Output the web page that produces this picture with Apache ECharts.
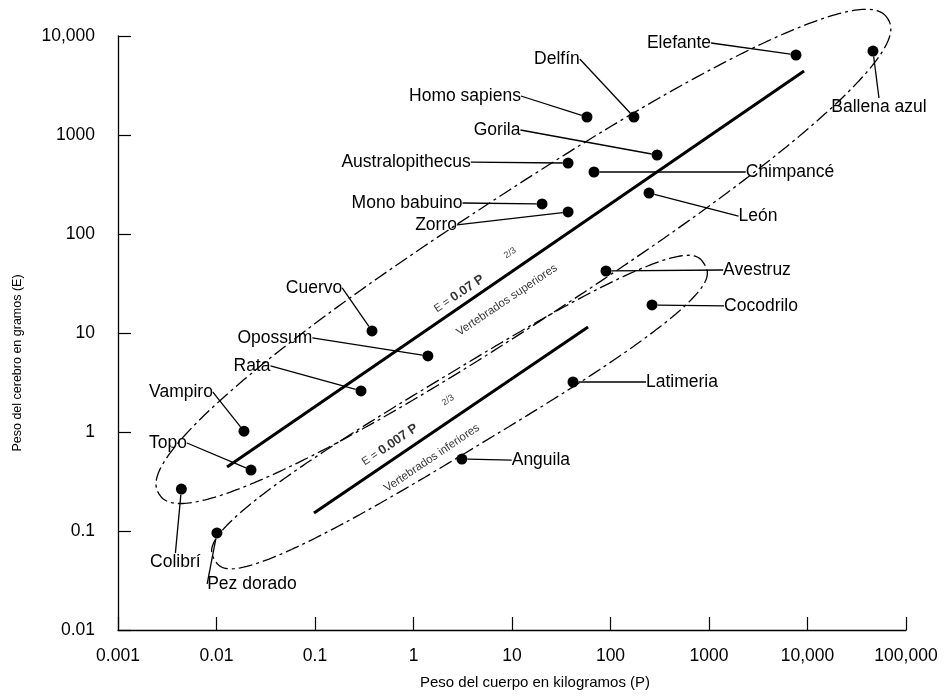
<!DOCTYPE html>
<html>
<head>
<meta charset="utf-8">
<script src="https://cdn.jsdelivr.net/npm/echarts@6/dist/echarts.min.js"></script>
<style>
html,body{margin:0;padding:0;background:#fff;}
#chart{width:947px;height:699px;}
</style>
</head>
<body>
<div id="chart"></div>
<script>
// ---------------- DATA ----------------
const animals = ['Colibrí','Pez dorado','Topo','Vampiro','Rata','Cuervo','Opossum','Anguila','Latimeria',
  'Mono babuino','Zorro','Australopithecus','Chimpancé','Homo sapiens','Delfín','Gorila','León',
  'Avestruz','Cocodrilo','Elefante','Ballena azul'];
// body weight P (kg)
const bodyKg = [0.0044, 0.0101, 0.0224, 0.019, 0.293, 0.379, 1.40, 3.10, 41.6,
  20.2, 37.1, 37.1, 68, 57.7, 173, 297, 246,
  90, 264, 7640, 46200];
// brain weight E (g)
const brainG = [0.265, 0.0955, 0.413, 1.02, 2.60, 10.5, 5.86, 0.533, 3.20,
  201, 167, 521, 423, 1520, 1520, 628, 259,
  42.3, 19.2, 6430, 7050];

// fitted lines (end points, P in kg, E in g)
const upperLineP = [0.0128, 9230];
const upperLineE = [0.443, 4430];
const lowerLineP = [0.0977, 59.2];
const lowerLineE = [0.152, 11.5];

// grouping envelopes (centre in data units, axes in decades of the log scale)
const envelopeNames = ['Vertebrados superiores', 'Vertebrados inferiores'];
const envelopeCenterP = [13.06, 2.93];
const envelopeCenterE = [59.4, 1.59];
const envelopeSemiMajor = [4.41, 2.90];
const envelopeSemiMinor = [0.64, 0.385];
const envelopeTilt = [33, 31];
const envelopeRoundness = [2.3, 2.8];

// annotation texts and anchors (data units)
const annotationText = ['E = 0.07 P', '2/3', 'Vertebrados superiores', 'E = 0.007 P', '2/3', 'Vertebrados inferiores'];
const annotationP = [2.9, 9.55, 8.9, 0.577, 2.24, 1.54];
const annotationE = [24.8, 64.3, 21.5, 0.739, 2.10, 0.546];

// axis tick labels
const xTickLabels = ['0.001','0.01','0.1','1','10','100','1000','10,000','100,000'];
const yTickLabels = ['0.01','0.1','1','10','100','1000','10,000'];
const xMinExp = -3, yMinExp = -2;

// ---------------- LAYOUT (label offsets in px from the dot) ----------------
const labelOffsets = {
  'Colibrí': [-6, 73], 'Pez dorado': [35, 51], 'Topo': [-83, -27], 'Vampiro': [-63, -39],
  'Rata': [-109, -25], 'Cuervo': [-58, -43], 'Opossum': [-153, -18], 'Anguila': [79, 1],
  'Latimeria': [109, 0], 'Mono babuino': [-135, -1], 'Zorro': [-132, 13],
  'Australopithecus': [-162, -1], 'Chimpancé': [196, 0], 'Homo sapiens': [-122, -21],
  'Delfín': [-77, -58], 'Gorila': [-160, -25], 'León': [109, 23], 'Avestruz': [151, -1],
  'Cocodrilo': [109, 1], 'Elefante': [-117, -12], 'Ballena azul': [6, 56]
};
const FONT = "'Liberation Sans', Arial, Helvetica, sans-serif";

function envelopePath(i) {
  const pts = [];
  const N = 360;
  const th = envelopeTilt[i] * Math.PI / 180;
  const cx = Math.log10(envelopeCenterP[i]), cy = Math.log10(envelopeCenterE[i]);
  const a = envelopeSemiMajor[i], b = envelopeSemiMinor[i], p = envelopeRoundness[i];
  for (let k = 0; k <= N; k++) {
    const t = 2 * Math.PI * k / N;
    const c = Math.cos(t), s = Math.sin(t);
    const u = a * Math.sign(c) * Math.pow(Math.abs(c), 2 / p);
    const v = b * Math.sign(s) * Math.pow(Math.abs(s), 2 / p);
    const lx = cx + u * Math.cos(th) - v * Math.sin(th);
    const ly = cy + u * Math.sin(th) + v * Math.cos(th);
    pts.push([Math.pow(10, lx), Math.pow(10, ly)]);
  }
  return pts;
}

function annotationLabel(txt) {
  if (txt.indexOf('E = ') === 0) return '{n|E = }{b|' + txt.slice(4) + '}';
  if (txt === '2/3') return '{s|2/3}';
  return '{v|' + txt + '}';
}

const chart = echarts.init(document.getElementById('chart'), null, {renderer: 'canvas'});

const option = {
  animation: false,
  backgroundColor: '#ffffff',
  grid: {left: 118, right: 41, top: 36, bottom: 69},
  xAxis: {
    type: 'log', logBase: 10, min: 0.001, max: 100000,
    name: 'Peso del cuerpo en kilogramos (P)',
    nameLocation: 'middle', nameGap: 45,
    nameTextStyle: {color: '#000', fontSize: 15, fontFamily: FONT, padding: [0, 0, 0, 46]},
    axisLine: {show: true, lineStyle: {color: '#000', width: 1.3}},
    axisTick: {show: true, inside: true, length: 13, lineStyle: {color: '#000', width: 1.2}},
    axisLabel: {color: '#000', fontSize: 17.5, fontFamily: FONT, margin: 17,
      formatter: v => xTickLabels[Math.round(Math.log10(v)) - xMinExp]},
    splitLine: {show: false}, minorTick: {show: false}
  },
  yAxis: {
    type: 'log', logBase: 10, min: 0.01, max: 10000,
    name: 'Peso del cerebro en gramos (E)',
    nameLocation: 'middle', nameGap: 94,
    nameTextStyle: {color: '#000', fontSize: 12.5, fontFamily: FONT, padding: [0, 60, 0, 0]},
    axisLine: {show: true, lineStyle: {color: '#000', width: 1.3}},
    axisTick: {show: true, inside: true, length: 13, lineStyle: {color: '#000', width: 1.2}},
    axisLabel: {color: '#000', fontSize: 17.5, fontFamily: FONT, margin: 23,
      formatter: v => yTickLabels[Math.round(Math.log10(v)) - yMinExp]},
    splitLine: {show: false}, minorTick: {show: false}
  },
  series: [
    ...envelopeNames.map((nm, i) => ({
      type: 'line', name: nm, data: envelopePath(i), showSymbol: false, symbol: 'none',
      clip: false, silent: true, z: 1,
      lineStyle: {color: '#000', width: 1.3, type: [14, 4, 3, 4]}
    })),
    {
      type: 'line', name: 'E = 0.07 P^2/3', symbol: 'none', silent: true, z: 2,
      data: upperLineP.map((p, i) => [p, upperLineE[i]]),
      lineStyle: {color: '#000', width: 3}
    },
    {
      type: 'line', name: 'E = 0.007 P^2/3', symbol: 'none', silent: true, z: 2,
      data: lowerLineP.map((p, i) => [p, lowerLineE[i]]),
      lineStyle: {color: '#000', width: 3}
    },
    {
      type: 'scatter', name: 'Animales', z: 5, symbolSize: 11,
      itemStyle: {color: '#000', opacity: 1},
      emphasis: {disabled: true},
      data: animals.map((n, i) => ({name: n, value: [bodyKg[i], brainG[i]]})),
      label: {show: true, formatter: '{b}', color: '#000', fontSize: 17.5, fontFamily: FONT,
        padding: [2, 4]},
      labelLine: {show: true, length2: 0, lineStyle: {color: '#000', width: 1.3, opacity: 1}},
      labelLayout: function (params) {
        const o = labelOffsets[animals[params.dataIndex]] || [0, 0];
        return {
          x: params.rect.x + params.rect.width / 2 + o[0],
          y: params.rect.y + params.rect.height / 2 + o[1],
          align: 'center', verticalAlign: 'middle'
        };
      }
    },
    {
      type: 'scatter', name: 'Anotaciones', z: 6, symbolSize: 1, silent: true,
      itemStyle: {color: 'rgba(0,0,0,0)'},
      emphasis: {disabled: true},
      data: annotationText.map((t, i) => ({name: t, value: [annotationP[i], annotationE[i]]})),
      label: {
        show: true, color: '#000', fontFamily: FONT,
        formatter: p => annotationLabel(p.name),
        rich: {
          n: {fontSize: 11, fontFamily: FONT, color: '#000'},
          b: {fontSize: 13, fontWeight: 'bold', fontFamily: FONT, color: '#000'},
          s: {fontSize: 9, fontFamily: FONT, color: '#000'},
          v: {fontSize: 11.5, fontFamily: FONT, color: '#000'}
        }
      },
      labelLayout: function (params) {
        return {
          x: params.rect.x + params.rect.width / 2,
          y: params.rect.y + params.rect.height / 2,
          align: 'center', verticalAlign: 'middle', rotate: 34
        };
      }
    }
  ]
};
chart.setOption(option);
</script>
</body>
</html>
